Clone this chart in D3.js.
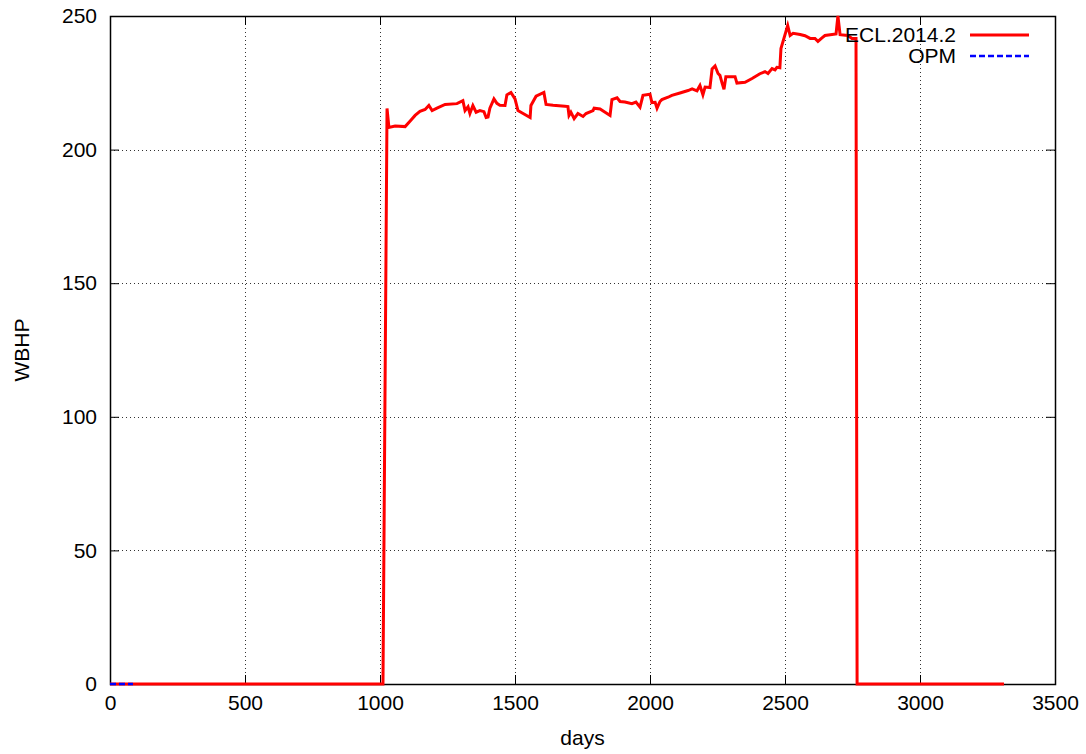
<!DOCTYPE html>
<html>
<head>
<meta charset="utf-8">
<script src="https://cdn.jsdelivr.net/npm/d3@7"></script>
<style>
  body { margin: 0; background: #fff; }
  #wrapper text { font-family: "Liberation Sans", Arial, sans-serif; fill: #000; }
</style>
</head>
<body>
<div id="wrapper"></div>
<script>
// data
const eclDays = [
  0, 1011, 1026, 1033, 1056, 1093, 1111, 1130, 1148, 1167, 1181, 1193, 1211,
  1241, 1285, 1307, 1315, 1326, 1333, 1344, 1356, 1370, 1385, 1393, 1400,
  1407, 1422, 1433, 1444, 1463, 1470, 1485, 1500, 1511, 1530, 1556, 1559,
  1578, 1607, 1615, 1641, 1685, 1696, 1700, 1707, 1719, 1733, 1752, 1763,
  1789, 1793, 1815, 1852, 1859, 1878, 1889, 1907, 1933, 1948, 1963, 1974,
  2000, 2007, 2019, 2026, 2037, 2044, 2067, 2081, 2111, 2141, 2156, 2174,
  2185, 2196, 2204, 2222, 2230, 2241, 2252, 2259, 2267, 2274, 2281, 2315,
  2322, 2352, 2378, 2407, 2426, 2437, 2452, 2463, 2470, 2481, 2485, 2496,
  2510, 2519, 2530, 2556, 2574, 2593, 2611, 2622, 2637, 2648, 2689, 2696,
  2704, 2733, 2748, 2763, 2767, 3311,
];
const eclWbhp = [
  0, 0, 215.4, 208.3, 208.8, 208.6, 210.6, 212.8, 214.3, 215, 216.5, 214.6, 215.5,
  216.9, 217.2, 218.3, 214.6, 216, 213.5, 216.5, 214, 214.6, 214.2, 212, 212.2,
  215.5, 219, 217.3, 216.6, 216.5, 220.5, 221.4, 219, 214.6, 213.5, 212, 216.5,
  220, 221.4, 216.9, 216.6, 216.2, 216.1, 212.8, 214, 211.6, 213.5, 212.4, 213.5,
  214.6, 215.5, 215.2, 212.8, 218.7, 219.4, 218, 217.8, 217.2, 217.8, 215.9, 220.3,
  220.7, 217.6, 217.7, 215.5, 218, 218.7, 219.6, 220.3, 221.2, 222.1, 222.7, 222,
  224, 220.5, 223.4, 223.2, 230.2, 231.3, 228.5, 227.8, 224.9, 222.6, 227.3, 227.3,
  224.9, 225.2, 226.6, 228.4, 229.2, 228.5, 230.3, 229.8, 230.8, 230.6, 237.8, 241.6,
  246.4, 242.7, 243.5, 243.1, 242.6, 241.6, 241.6, 240.5, 241.8, 242.7, 243.3, 250,
  243, 242.7, 241.6, 241.6, 0, 0,
];
const opmDays = [0, 85];
const opmWbhp = [0, 0];

const xTicks = [0, 500, 1000, 1500, 2000, 2500, 3000, 3500];
const yTicks = [0, 50, 100, 150, 200, 250];
const seriesNames = ["ECL.2014.2", "OPM"];

function drawChart() {
  const width = 1086;
  let dimensions = {
    width: width,
    height: 754,
    margin: { top: 16, right: 31, bottom: 70, left: 110 },
  };
  dimensions.boundedWidth =
    dimensions.width - dimensions.margin.left - dimensions.margin.right;
  dimensions.boundedHeight =
    dimensions.height - dimensions.margin.top - dimensions.margin.bottom;

  const wrapper = d3
    .select("#wrapper")
    .append("svg")
    .attr("width", dimensions.width)
    .attr("height", dimensions.height);

  const bounds = wrapper
    .append("g")
    .attr("transform", `translate(${dimensions.margin.left},${dimensions.margin.top})`);

  // scales
  const xScale = d3.scaleLinear().domain([0, 3500]).range([0, dimensions.boundedWidth]);
  const yScale = d3.scaleLinear().domain([0, 250]).range([dimensions.boundedHeight, 0]);

  // grid (dotted)
  const grid = bounds.append("g").attr("class", "grid");
  grid.selectAll(".vgrid")
    .data(xTicks.slice(1, -1))
    .join("line")
    .attr("x1", (d) => xScale(d) + 0.5)
    .attr("x2", (d) => xScale(d) + 0.5)
    .attr("y1", 0)
    .attr("y2", dimensions.boundedHeight)
    .attr("stroke", "#333")
    .attr("stroke-dasharray", "1,3");
  grid.selectAll(".hgrid")
    .data(yTicks.slice(1, -1))
    .join("line")
    .attr("x1", 0)
    .attr("x2", dimensions.boundedWidth)
    .attr("y1", (d) => Math.round(yScale(d)) + 0.5)
    .attr("y2", (d) => Math.round(yScale(d)) + 0.5)
    .attr("stroke", "#333")
    .attr("stroke-dasharray", "1,3");

  // axes, ticks pointing inward
  const fontSize = "21px";
  const fmt = d3.format("d");
  const xAxis = bounds.append("g")
    .attr("transform", `translate(0,${dimensions.boundedHeight})`)
    .call(d3.axisBottom(xScale).tickValues(xTicks).tickFormat(fmt).tickSize(-9).tickPadding(11));
  const yAxis = bounds.append("g")
    .call(d3.axisLeft(yScale).tickValues(yTicks).tickFormat(fmt).tickSize(-9).tickPadding(13));
  const xTop = bounds.append("g")
    .call(d3.axisTop(xScale).tickValues(xTicks).tickSize(-9).tickFormat(""));
  const yRight = bounds.append("g")
    .attr("transform", `translate(${dimensions.boundedWidth},0)`)
    .call(d3.axisRight(yScale).tickValues(yTicks).tickSize(-9).tickFormat(""));

  [xAxis, yAxis, xTop, yRight].forEach((a) => {
    a.select(".domain").remove();
    a.selectAll("line").attr("stroke", "#000");
    a.selectAll("text").style("font-size", fontSize).attr("fill", "#000");
  });

  // border
  bounds.append("rect")
    .attr("x", 0.5)
    .attr("y", 0.5)
    .attr("width", dimensions.boundedWidth)
    .attr("height", dimensions.boundedHeight)
    .attr("fill", "none")
    .attr("stroke", "#000")
    .attr("stroke-width", 1.5);

  // axis labels
  wrapper.append("text")
    .attr("x", dimensions.margin.left + dimensions.boundedWidth / 2)
    .attr("y", 745)
    .attr("text-anchor", "middle")
    .style("font-size", fontSize)
    .text("days");
  wrapper.append("text")
    .attr("transform", `translate(29,${dimensions.margin.top + dimensions.boundedHeight / 2}) rotate(-90)`)
    .attr("text-anchor", "middle")
    .style("font-size", fontSize)
    .text("WBHP");

  // lines
  const lineGen = d3.line()
    .x((d) => xScale(d[0]))
    .y((d) => yScale(d[1]));

  const ecl = eclDays.map((d, i) => [d, eclWbhp[i]]);
  const opm = opmDays.map((d, i) => [d, opmWbhp[i]]);

  bounds.append("path")
    .datum(ecl)
    .attr("d", lineGen)
    .attr("fill", "none")
    .attr("stroke", "#ff0000")
    .attr("stroke-width", 3)
    .attr("stroke-linejoin", "miter");

  bounds.append("path")
    .datum(opm)
    .attr("d", lineGen)
    .attr("fill", "none")
    .attr("stroke", "#0000ff")
    .attr("stroke-width", 2.5)
    .attr("stroke-dasharray", "6,3");

  // legend
  const legend = wrapper.append("g").attr("class", "legend");
  const legendStyles = [
    { color: "#ff0000", dash: null, width: 3 },
    { color: "#0000ff", dash: "6,3", width: 2.5 },
  ];
  seriesNames.forEach((name, i) => {
    const y = 35 + i * 21;
    legend.append("text")
      .attr("x", 956)
      .attr("y", y)
      .attr("dy", "0.35em")
      .attr("text-anchor", "end")
      .style("font-size", fontSize)
      .text(name);
    legend.append("line")
      .attr("x1", 970)
      .attr("x2", 1029)
      .attr("y1", y)
      .attr("y2", y)
      .attr("stroke", legendStyles[i].color)
      .attr("stroke-width", legendStyles[i].width)
      .attr("stroke-dasharray", legendStyles[i].dash);
  });
}
drawChart();
</script>
</body>
</html>
